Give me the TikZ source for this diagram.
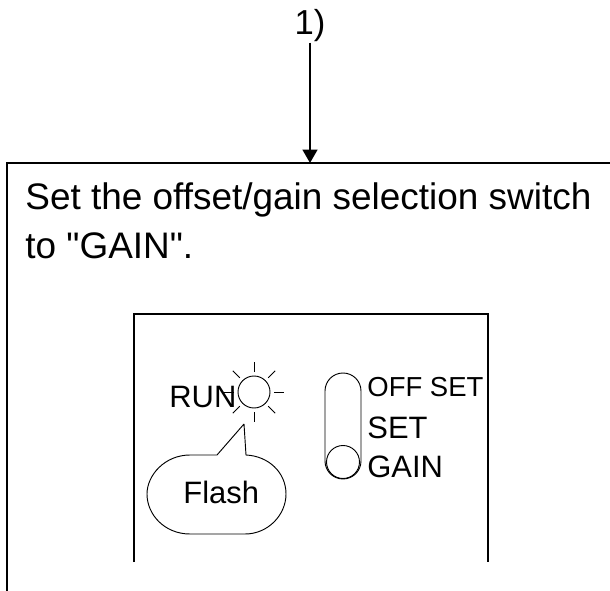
\documentclass[tikz,border=0pt]{standalone}
\usepackage{fontspec}
\setmainfont{Liberation Sans}
\newfontfamily\plainfont{Liberation Sans}
\usetikzlibrary {arrows.meta, positioning, calc}
\tikzset{
	txt/.style={inner sep=0pt,anchor=base west,font=\plainfont\fontsize{27.7}{34}\selectfont},
	lbl/.style={inner sep=0pt,anchor=base west,font=\fontsize{23.2}{28}\selectfont},
	small/.style={inner sep=0pt,anchor=base west,font=\fontsize{20.6}{25}\selectfont},
	ray/.style={line width=0.7pt}
}

\begin{document}
\begin{tikzpicture}[x=0.75pt,y=-0.75pt,>={Stealth[length=10pt,width=11pt,inset=0pt]},semithick]
	\useasboundingbox (0,0) rectangle (610,591);

	\node[inner sep=0pt,anchor=base,font=\fontsize{26}{32}\selectfont] (one) at (310,35) {1)};
	\coordinate (A) at (310,163);

	% outer box, open on the right
	\draw[line width=1.5pt] (7,591) -- (7,163) -- (610,163);
	\draw[->,line width=1.7pt] (one.south) -- (A);

	\node[txt] (L1) at (25,210) {Set the offset/gain selection switch};
	\node[txt] (L2) at (25,259) {to "GAIN".};

	% panel
	\draw[line width=1.1pt] (134,562) -- (134,314) -- (488,314) -- (488,562);

	\node[lbl] (run) at (169,407) {RUN};
	\node[draw,circle,ray,inner sep=0pt,minimum size=32pt*0.75] (led) at (254,392) {};
	\foreach \a in {0,45,...,315} {
		\draw[ray] ($(led.center)+(\a:20)$) -- ($(led.center)+(\a:30)$);
	}

	% callout
	\coordinate (tip) at (244,424);
	\draw[ray] (tip) -- (217,455) -- (190,455)
		.. controls (165,455) and (147,475) .. (147,494)
		.. controls (147,515) and (165,534) .. (190,534)
		-- (245,534)
		.. controls (268,534) and (286,515) .. (286,494)
		.. controls (286,472) and (268,456) .. (246,455) -- (tip);
	\node[lbl] (flash) at (183,503) {Flash};

	% switch
	\draw[ray] (325,391) arc[start angle=180,end angle=360,radius=18] -- (361,461)
		arc[start angle=0,end angle=180,radius=18] -- cycle;
	\node[draw,circle,ray,inner sep=0pt,minimum size=33pt*0.75] (knob) at (343,462) {};
	\node[small] (off) at (367,396) {OFF SET};
	\node[lbl] (set) at (367,438) {SET};
	\node[lbl] (gain) at (367,477) {GAIN};
\end{tikzpicture}
\end{document}
